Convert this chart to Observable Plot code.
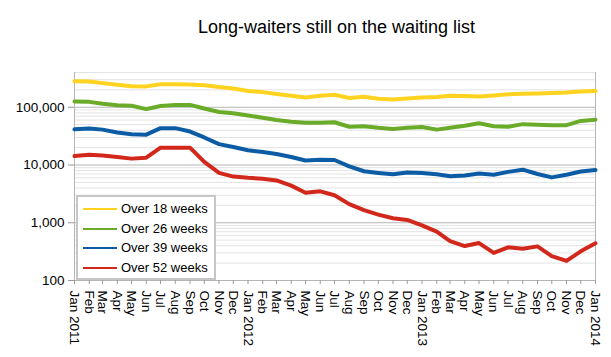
<!DOCTYPE html>
<html>
<head>
<meta charset="utf-8">
<script src="https://cdn.jsdelivr.net/npm/d3@7"></script>
<script src="https://cdn.jsdelivr.net/npm/@observablehq/plot@0.6"></script>
<style>
  body { margin: 0; background: #fff; font-family: "Liberation Sans", Arial, sans-serif; }
  #wrap { position: relative; width: 611px; height: 357px; overflow: hidden; background: #fff; }
  #title { position: absolute; left: 76px; top: 0; width: 521px; padding-top: 18px; font-size: 18px; line-height: 18px; text-align: center; color: #000; }
  #chart { position: absolute; left: 0; top: 60px; }
  #legend { position: absolute; left: 76px; top: 195px; width: 136px; height: 81px; border: 2px solid #c6c6c6; background: #fff; }
  .item { position: absolute; left: 0; height: 20px; width: 136px; font-size: 13px; line-height: 20px; color: #000; }
  .item .sw { position: absolute; left: 5px; top: 9px; width: 34px; height: 2px; }
  .item .lb { position: absolute; left: 43px; top: 0; white-space: nowrap; }
</style>
</head>
<body>
<div id="wrap">
  <div id="title">Long-waiters still on the waiting list</div>
  <div id="chart"></div>
  <div id="legend"></div>
</div>
<script>
const months = [
  "2011-01","2011-02","2011-03","2011-04","2011-05","2011-06","2011-07","2011-08","2011-09","2011-10","2011-11","2011-12",
  "2012-01","2012-02","2012-03","2012-04","2012-05","2012-06","2012-07","2012-08","2012-09","2012-10","2012-11","2012-12",
  "2013-01","2013-02","2013-03","2013-04","2013-05","2013-06","2013-07","2013-08","2013-09","2013-10","2013-11","2013-12",
  "2014-01"
];
const monthNames = ["Jan","Feb","Mar","Apr","May","Jun","Jul","Aug","Sep","Oct","Nov","Dec"];

const over18 = [282000,280000,262000,245000,232000,230000,250000,250000,248000,240000,225000,212000,
                192000,183000,170000,158000,148000,158000,165000,145000,152000,140000,136000,142000,
                147000,150000,158000,156000,153000,160000,168000,172000,173000,176000,180000,188000,192000];
const over26 = [126000,124000,115000,108000,106000,93000,105000,110000,110000,95000,83000,79000,
                72000,66000,60000,56000,54000,54000,55000,46000,47000,44000,42000,44000,
                45500,41000,44000,48000,53000,47000,46000,51000,50000,49000,49000,58000,61000];
const over39 = [41500,43000,41000,36500,34000,33500,43500,43500,38000,30000,23000,20500,
                18000,16800,15500,13800,12000,12300,12200,9500,7800,7300,6900,7400,
                7300,6900,6400,6600,7100,6800,7600,8300,7000,6100,6800,7700,8200];
const over52 = [14300,15000,14600,13800,12900,13400,20000,20000,20000,11300,7300,6300,
                6000,5800,5400,4400,3300,3500,3000,2100,1650,1380,1200,1120,
                900,700,480,395,445,300,375,355,390,265,218,320,440];

const seriesNames = ["Over 18 weeks","Over 26 weeks","Over 39 weeks","Over 52 weeks"];
const seriesColors = ["#FFD320","#6AAB2A","#0B5CA5","#D2281C"];
const yTicks = [100, 1000, 10000, 100000];
const yMax = 400000;

const dates = months.map(m => new Date(m + "-01T00:00:00Z"));
const allSeries = [over18, over26, over39, over52];
const data = [];
allSeries.forEach((vals, s) => vals.forEach((v, i) => data.push({date: dates[i], value: v, series: seriesNames[s]})));

const minorGrid = [];
yTicks.forEach(d => { for (let k = 2; k <= 9; k++) if (d * k <= yMax) minorGrid.push(d * k); });
minorGrid.push(yMax);

const fmt = d3.format(",");
const tickLabel = d => {
  const m = d.getUTCMonth();
  return m === 0 ? `${monthNames[m]} ${d.getUTCFullYear()}` : monthNames[m];
};

const chart = Plot.plot({
  width: 611,
  height: 297,
  marginTop: 12,
  marginBottom: 77,
  marginLeft: 74,
  marginRight: 16,
  style: {fontFamily: "'Liberation Sans', Arial, sans-serif", fontSize: "13.5px", color: "#000", background: "#fff", overflow: "visible"},
  x: {type: "utc", domain: [dates[0], dates[dates.length - 1]]},
  y: {type: "log", domain: [100, yMax]},
  color: {domain: seriesNames, range: seriesColors},
  marks: [
    Plot.ruleY(minorGrid, {stroke: "#e3e3e3", strokeWidth: 1}),
    Plot.ruleY(yTicks, {stroke: "#b5b5b5", strokeWidth: 1}),
    Plot.ruleX([dates[0], dates[dates.length - 1]], {stroke: "#b5b5b5", strokeWidth: 1}),
    Plot.axisY({ticks: yTicks, tickFormat: fmt, tickSize: 6, tickPadding: 4, stroke: "#999", fill: "#000", fontSize: 13.5, label: null}),
    Plot.axisX({ticks: dates, tickFormat: tickLabel, tickRotate: 90, tickSize: 4, tickPadding: 6, stroke: "#999", fill: "#000", fontSize: 13.5, label: null}),
    Plot.line(data, {x: "date", y: "value", z: "series", stroke: "series", strokeWidth: 4, strokeLinejoin: "round", strokeLinecap: "round"})
  ]
});
document.getElementById("chart").appendChild(chart);

const legend = document.getElementById("legend");
seriesNames.forEach((name, i) => {
  const item = document.createElement("div");
  item.className = "item";
  item.style.top = (2 + i * 19.5) + "px";
  const sw = document.createElement("div");
  sw.className = "sw";
  sw.style.background = seriesColors[i];
  const lb = document.createElement("div");
  lb.className = "lb";
  lb.textContent = name;
  item.appendChild(sw);
  item.appendChild(lb);
  legend.appendChild(item);
});
</script>
</body>
</html>
